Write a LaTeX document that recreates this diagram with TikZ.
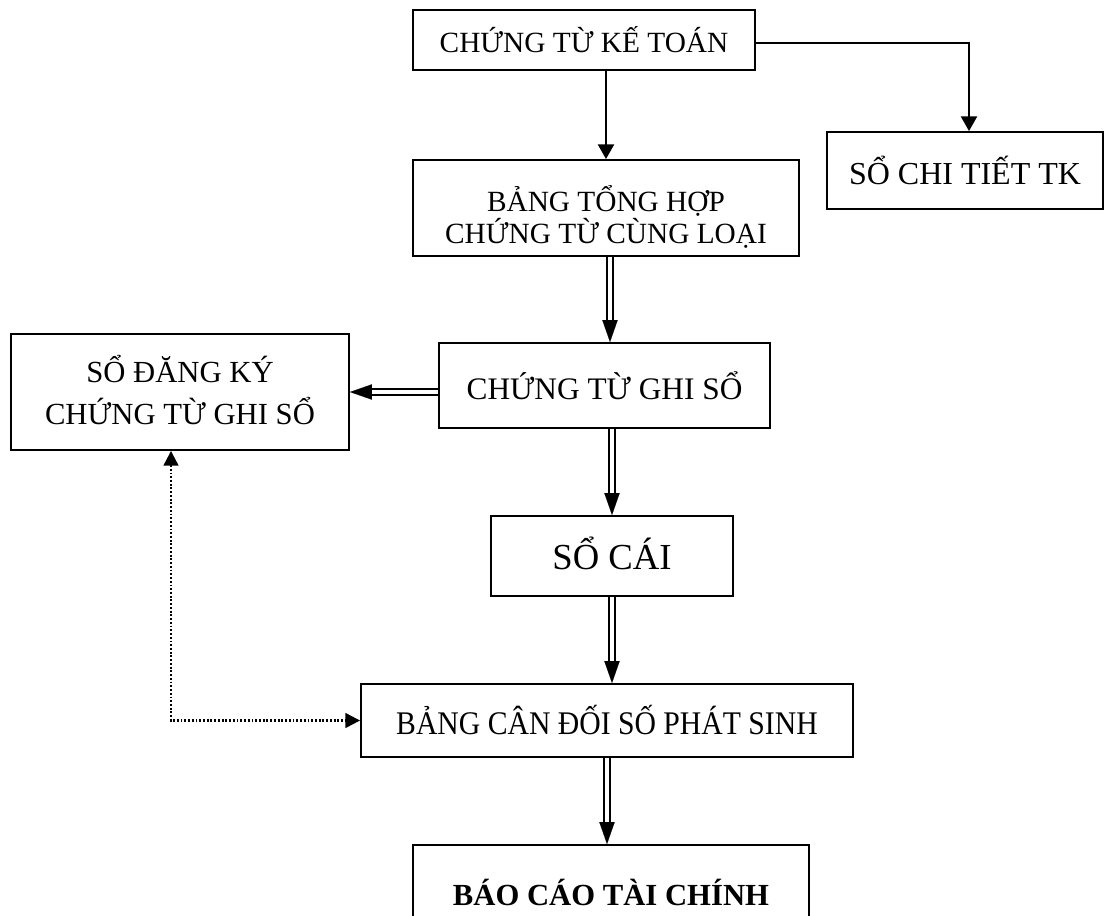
\documentclass[tikz,border=0pt]{standalone}
\usepackage{fontspec}
\setmainfont{Liberation Serif}
\usetikzlibrary{arrows.meta,calc}
\begin{document}
\begin{tikzpicture}[x=0.75pt,y=-0.75pt,
  box/.style={draw, line width=1.4pt, inner sep=0pt, align=center},
  txt/.style={inner sep=0pt, align=center},
  arr/.style={line width=1.5pt, -{Triangle[length=11pt,width=12pt]}},
  dblshaft/.style={line width=1.4pt, double distance=2.6pt, shorten >=14pt},
  dbltip/.style={line width=0.1pt, -{Triangle[length=16.5pt,width=11.5pt]}},
  dotarrow/.style={line width=1.7pt, dash pattern=on 1.4pt off 1.4pt,
    {Triangle[length=11pt,width=11pt]}-{Triangle[length=11pt,width=11pt]}}
]
\useasboundingbox (0,0) rectangle (1104,915);
\clip (0,0) rectangle (1104,915);

% boxes
\node[box, minimum width=256.5pt, minimum height=45pt,
  font=\fontsize{22}{26}\selectfont] (b1) at (584,40) {CHỨNG TỪ KẾ TOÁN};
\node[box, minimum width=207pt, minimum height=57.75pt,
  font=\fontsize{24}{28}\selectfont] (b2) at (965,170.5) {SỔ CHI TIẾT TK};
\node[box, minimum width=289.5pt, minimum height=72pt] (b3) at (606,208) {};
\node[txt, font=\fontsize{22}{21.75}\selectfont] (t3) at ($(b3.center)+(0,9)$)
  {BẢNG TỔNG HỢP\\CHỨNG TỪ CÙNG LOẠI};
\node[box, minimum width=253.5pt, minimum height=87pt] (b4) at (180,392) {};
\node[txt, font=\fontsize{23}{31.5}\selectfont] (t4) at ($(b4.center)+(0,-2)$)
  {SỔ ĐĂNG KÝ\\CHỨNG TỪ GHI SỔ};
\node[box, minimum width=248.25pt, minimum height=63.75pt,
  font=\fontsize{23.5}{28}\selectfont] (b5) at (604.5,385.5) {CHỨNG TỪ GHI SỔ};
\node[box, minimum width=181.5pt, minimum height=60pt] (b6) at (612,556) {};
\node[txt, font=\fontsize{27.5}{32}\selectfont] (t6) at ($(b6.center)+(0,-3)$) {SỔ CÁI};
\node[box, minimum width=369pt, minimum height=54.75pt,
  font=\fontsize{24.75}{30}\selectfont] (b7) at (607,720.5) {\scalebox{0.9}[1]{BẢNG CÂN ĐỐI SỐ PHÁT SINH}};
\node[box, minimum width=297pt, minimum height=70.5pt,
  font=\fontsize{23}{28}\selectfont\bfseries] (b8) at (611,892) {BÁO CÁO TÀI CHÍNH};

% single arrows
\draw[arr] (b1.south -| b3.north) -- (b3.north);
\draw[arr] ($(b1.east)+(0,3)$) -| ($(b2.north)+(4,0)$);

% double arrows: shaft, then tip
\draw[dblshaft] ($(b3.south)+(4,0)$) -- ($(b3.south |- b5.north)+(4,0)$);
\draw[dbltip] ($(b3.south |- b5.north)+(4,-2)$) -- ($(b3.south |- b5.north)+(4,0)$);

\draw[dblshaft] (b5.west |- b4.east) -- (b4.east);
\draw[dbltip] ($(b4.east)+(2,0)$) -- (b4.east);

\draw[dblshaft] (b5.south -| b6.north) -- (b6.north);
\draw[dbltip] ($(b6.north)+(0,-2)$) -- (b6.north);

\draw[dblshaft] (b6.south) -- (b6.south |- b7.north);
\draw[dbltip] ($(b6.south |- b7.north)+(0,-2)$) -- (b6.south |- b7.north);

\draw[dblshaft] (b7.south) -- (b7.south |- b8.north);
\draw[dbltip] ($(b7.south |- b8.north)+(0,-2)$) -- (b7.south |- b8.north);

% dotted two-way link
\coordinate (dotx) at (171,722);
\draw[dotarrow] (b4.south -| dotx) |- (b7.west);
\end{tikzpicture}
\end{document}
